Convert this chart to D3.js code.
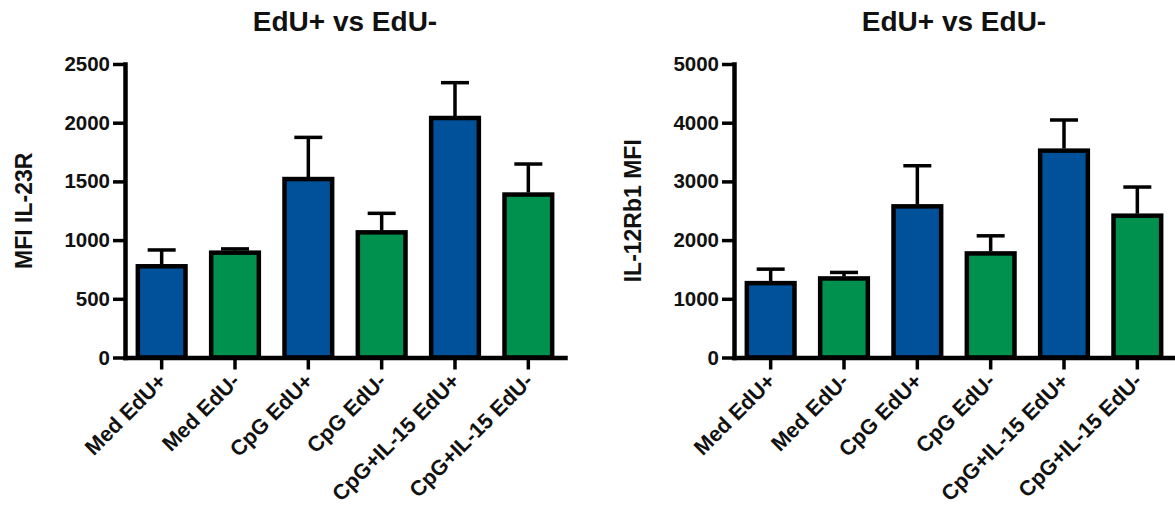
<!DOCTYPE html>
<html>
<head>
<meta charset="utf-8">
<script src="https://cdn.jsdelivr.net/npm/d3@7"></script>
<style>
  html, body { margin: 0; padding: 0; background: #fff; }
  svg { display: block; }
  text { font-family: "Liberation Sans", Arial, Helvetica, sans-serif; font-weight: bold; fill: #111; }
</style>
</head>
<body>
<svg id="chart" width="1175" height="510"></svg>
<script>
// Groups shown on both panels
const categories = ["Med EdU+", "Med EdU-", "CpG EdU+", "CpG EdU-", "CpG+IL-15 EdU+", "CpG+IL-15 EdU-"];
const barColors = ["#01519a", "#00914f", "#01519a", "#00914f", "#01519a", "#00914f"];

// Panel 1: IL-23R MFI (mean and SEM)
const il23rMean = [777, 893, 1520, 1066, 2040, 1388];
const il23rSem  = [139, 32, 355, 162, 301, 260];
const il23rTicks = [0, 500, 1000, 1500, 2000, 2500];

// Panel 2: IL-12Rb1 MFI (mean and SEM)
const il12Mean = [1267, 1347, 2575, 1773, 3524, 2416];
const il12Sem  = [238, 102, 692, 300, 522, 488];
const il12Ticks = [0, 1000, 2000, 3000, 4000, 5000];

const svg = d3.select("#chart");
svg.append("rect").attr("width", 1175).attr("height", 510).attr("fill", "#fff");

function drawPanel(opts) {
  const { x0, title, yLabel, mean, sem, ticks } = opts;
  const top = 64, bottom = 357.5, plotW = 440;
  const g = svg.append("g");

  const x = d3.scaleBand().domain(categories).range([x0, x0 + plotW]).paddingInner(0.35).paddingOuter(0.175);
  const y = d3.scaleLinear().domain([0, d3.max(ticks)]).range([bottom, top]);

  const rows = categories.map((c, i) => ({ c, m: mean[i], s: sem[i], col: barColors[i] }));

  // bars
  g.selectAll("rect.bar").data(rows).join("rect")
    .attr("class", "bar")
    .attr("x", d => x(d.c))
    .attr("width", x.bandwidth())
    .attr("y", d => y(d.m))
    .attr("height", d => y(0) - y(d.m))
    .attr("fill", d => d.col)
    .attr("stroke", "#000")
    .attr("stroke-width", 4.5);

  // upper error bars
  const capHalf = 14;
  const eb = g.selectAll("g.err").data(rows).join("g").attr("class", "err")
    .attr("stroke", "#000").attr("stroke-width", 3.5);
  eb.append("line")
    .attr("x1", d => x(d.c) + x.bandwidth() / 2).attr("x2", d => x(d.c) + x.bandwidth() / 2)
    .attr("y1", d => y(d.m) - 2).attr("y2", d => y(d.m + d.s));
  eb.append("line")
    .attr("x1", d => x(d.c) + x.bandwidth() / 2 - capHalf).attr("x2", d => x(d.c) + x.bandwidth() / 2 + capHalf)
    .attr("y1", d => y(d.m + d.s)).attr("y2", d => y(d.m + d.s));

  // y axis
  const ya = g.append("g").attr("transform", `translate(${x0},0)`)
    .call(d3.axisLeft(y).tickValues(ticks).tickFormat(d3.format("d")).tickSize(12).tickSizeOuter(0).tickPadding(3));
  ya.select(".domain").attr("stroke", "#000").attr("stroke-width", 4.5).attr("stroke-linecap", "square");
  ya.selectAll(".tick line").attr("stroke", "#000").attr("stroke-width", 3.5);
  ya.selectAll(".tick text").attr("font-size", 20.5).attr("fill", "#111")
    .attr("font-family", "'Liberation Sans', Arial, sans-serif").attr("font-weight", "bold");

  // x axis
  const xa = g.append("g").attr("transform", `translate(0,${bottom})`)
    .call(d3.axisBottom(x).tickSize(12).tickSizeOuter(0).tickPadding(0));
  xa.select(".domain").attr("stroke", "#000").attr("stroke-width", 4.5).attr("stroke-linecap", "square");
  xa.selectAll(".tick line").attr("stroke", "#000").attr("stroke-width", 3.5);
  xa.selectAll(".tick text")
    .attr("font-size", 21.5).attr("fill", "#111")
    .attr("font-family", "'Liberation Sans', Arial, sans-serif").attr("font-weight", "bold")
    .attr("text-anchor", "end")
    .attr("y", 0).attr("dy", 0)
    .attr("transform", "translate(6,25) rotate(-45)");

  // title
  g.append("text").attr("x", x0 + plotW / 2).attr("y", 30.5)
    .attr("text-anchor", "middle").attr("font-size", 28).text(title);

  // y label
  g.append("text")
    .attr("transform", `translate(${x0 - 93},${(top + bottom) / 2}) rotate(-90)`)
    .attr("text-anchor", "middle").attr("font-size", 23).text(yLabel);
}

drawPanel({ x0: 125, title: "EdU+ vs EdU-", yLabel: "MFI IL-23R", mean: il23rMean, sem: il23rSem, ticks: il23rTicks });
drawPanel({ x0: 734, title: "EdU+ vs EdU-", yLabel: "IL-12Rb1 MFI", mean: il12Mean, sem: il12Sem, ticks: il12Ticks });
</script>
</body>
</html>
